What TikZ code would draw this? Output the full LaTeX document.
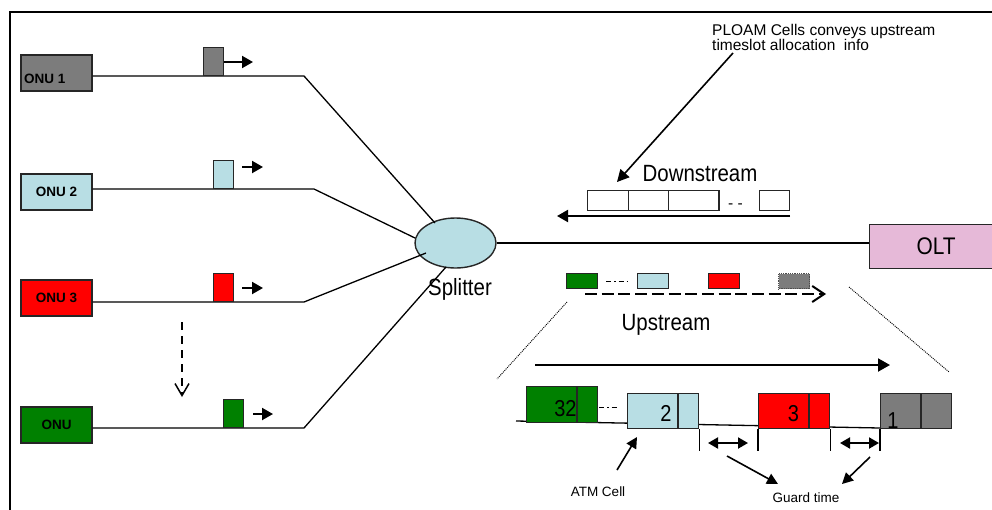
\documentclass[tikz,border=0pt]{standalone}
\usepackage{fontspec}
\setmainfont{Liberation Sans}
\newfontfamily\narrowsf[FakeStretch=0.87]{Liberation Sans}
\usetikzlibrary{arrows.meta,shapes.geometric}

\definecolor{unitgray}{RGB}{124,124,124}
\definecolor{unitblue}{RGB}{184,222,228}
\definecolor{unitred}{RGB}{255,0,0}
\definecolor{unitgreen}{RGB}{0,128,0}
\definecolor{oltpink}{RGB}{230,185,216}

\tikzset{
  framestyle/.style={line width=1.6pt, line cap=rect},
  cellline/.style={draw=black!85, line width=1.4pt},
  cellbox/.style={cellline, rectangle, inner sep=0pt},
  onubox/.style={cellbox, minimum width=71pt, minimum height=36pt,
    font=\fontsize{13.5}{15}\selectfont\bfseries},
  onulabel/.style={inner sep=0pt, font=\fontsize{13.5}{15}\selectfont\bfseries},
  pkt/.style={cellbox, minimum width=20pt, minimum height=28pt, anchor=south west},
  ublock/.style={cellbox, minimum width=31pt, minimum height=15pt, anchor=north west},
  dcell/.style={cellbox, minimum height=20pt, anchor=north west},
  bigcell/.style={cellbox, minimum height=35pt, anchor=north west},
  fiber/.style={line width=1.3pt},
  pushto/.style={line width=2pt, -{Triangle[length=11pt,width=12pt]}},
  bigtext/.style={inner sep=0pt, font=\narrowsf\fontsize{23.5}{26}\selectfont},
  numtext/.style={inner sep=0pt, font=\narrowsf\fontsize{23}{25}\selectfont},
  smalltext/.style={inner sep=0pt, font=\fontsize{13.5}{15}\selectfont},
  notetext/.style={inner sep=0pt, font=\fontsize{15.5}{16}\selectfont},
  zoomline/.style={line width=0.9pt, dash pattern=on 1pt off 1pt},
  pointer/.style={line width=1.6pt, -{Triangle[length=11pt,width=11pt]}},
  gap/.style={line width=2pt, {Triangle[length=10pt,width=11pt]}-{Triangle[length=10pt,width=11pt]}},
  dashdot/.style={line width=1pt, dash pattern=on 5pt off 3pt on 1.5pt off 3pt on 5pt off 3pt},
}

\begin{document}
\begin{tikzpicture}[x=1pt,y=-1pt]
\useasboundingbox (0,0) rectangle (992,509);

% outer frame (open at right and bottom)
\coordinate (fbl) at (10,509);
\coordinate (ftl) at (10,12);
\coordinate (ftr) at (992,12);
\draw[framestyle] (fbl) -- (ftl) -- (ftr);

% ---------------- ONUs ----------------
\node[onubox, fill=unitgray] (onu1) at (56.5,73) {};
\node[onulabel, anchor=base west] (onu1t) at (24,83.3) {ONU 1};
\node[onubox, fill=unitblue] (onu2) at (56.5,192) {ONU 2};
\node[onubox, fill=unitred] (onu3) at (56.5,298) {ONU 3};
\node[onubox, fill=unitgreen] (onu4) at (56.5,425) {ONU};

% splitter
\node[draw=black!85, line width=1.4pt, ellipse, fill=unitblue,
      minimum width=81pt, minimum height=50pt, inner sep=0pt] (split) at (455.5,243) {};
\node[bigtext, anchor=base] (splitlbl) at (460,295) {Splitter};

% fibres from the ONUs into the splitter
\coordinate (b1) at (304,76);  \coordinate (e1) at (435,223);
\coordinate (b2) at (314,189); \coordinate (e2) at (415,238);
\coordinate (b3) at (304,302); \coordinate (e3) at (426,253);
\coordinate (b4) at (304,428); \coordinate (e4) at (446,267);
\draw[fiber] (onu1.east |- b1) -- (b1) -- (e1);
\draw[fiber] (onu2.east |- b2) -- (b2) -- (e2);
\draw[fiber] (onu3.east |- b3) -- (b3) -- (e3);
\draw[fiber] (onu4.east |- b4) -- (b4) -- (e4);

% upstream bursts on each fibre
\node[pkt, fill=unitgray]  (pk1) at (203,76)  {};
\node[pkt, fill=unitblue]  (pk2) at (213,189) {};
\node[pkt, fill=unitred]   (pk3) at (213,302) {};
\node[pkt, fill=unitgreen] (pk4) at (223,428) {};
\coordinate (a1) at (253,62);
\coordinate (s2) at (242,167); \coordinate (a2) at (263,167);
\coordinate (s3) at (242,288); \coordinate (a3) at (263,288);
\coordinate (s4) at (253,414); \coordinate (a4) at (273,414);
\draw[pushto] (pk1.east |- a1) -- (a1);
\draw[pushto] (s2) -- (a2);
\draw[pushto] (s3) -- (a3);
\draw[pushto] (s4) -- (a4);

% more ONUs further down
\coordinate (m0) at (182,322);
\coordinate (m1) at (182,397);
\draw[line width=1.5pt, dash pattern=on 8pt off 6pt,
      -{Straight Barb[length=12pt,width=14pt]}] (m0) -- (m1);

% ---------------- OLT and trunk ----------------
\node[cellbox, fill=oltpink, minimum width=133pt, minimum height=44pt,
      anchor=north west, font=\narrowsf\fontsize{24}{26}\selectfont] (olt) at (869,224) {OLT};
\draw[fiber] (split.east) -- (split.east -| olt.west);

% ---------------- downstream ----------------
\node[dcell, minimum width=41pt]   (dc1) at (586.7,190) {};
\node[dcell, minimum width=40pt]   (dc2) at (627.7,190) {};
\node[dcell, minimum width=50.6pt] (dc3) at (667.7,190) {};
\node[dcell, minimum width=30pt]   (dc4) at (759,190) {};
\node[notetext, anchor=base] (dcdots) at (735.5,208.5) {- -};
\coordinate (d0) at (790,216);
\coordinate (d1) at (557,216);
\draw[line width=2pt, -{Triangle[length=11pt,width=12pt]}] (d0) -- (d1);
\node[bigtext, anchor=base] (dslbl) at (700,181.7) {Downstream};

\node[notetext, anchor=base west] (ploam1) at (712,35.7) {PLOAM Cells conveys upstream};
\node[notetext, anchor=base west] (ploam2) at (712,50) {timeslot allocation~~info};
\coordinate (p0) at (733,53);
\coordinate (p1) at (617,182);
\draw[line width=1.6pt, -{Triangle[length=12pt,width=12pt]}] (p0) -- (p1);

% ---------------- upstream ----------------
\node[ublock, fill=unitgreen] (ug) at (566,273) {};
\node[ublock, fill=unitblue]  (ub) at (637,273) {};
\node[ublock, fill=unitred]   (ur) at (708,273) {};
\node[ublock, fill=unitgray, draw=black!70, dash pattern=on 1pt off 0.8pt] (uy) at (778,273) {};
\coordinate (ud0) at (606,281);
\coordinate (ud1) at (628,281);
\draw[dashdot] (ud0) -- (ud1);
\coordinate (u0) at (585,294);
\coordinate (u1) at (826,294);
\draw[line width=2pt, dash pattern=on 12pt off 4.7pt,
      -{Straight Barb[length=12pt,width=16pt]}] (u0) -- (u1);
\node[bigtext, anchor=base] (uslbl) at (666,330) {Upstream};

% magnified burst train
\coordinate (z0) at (567,302); \coordinate (z1) at (497,379);
\coordinate (z2) at (849,287); \coordinate (z3) at (949,372);
\draw[zoomline] (z0) -- (z1);
\draw[zoomline] (z2) -- (z3);

\coordinate (t0) at (535,365);
\coordinate (t1) at (890,365);
\draw[line width=2pt, -{Triangle[length=12pt,width=13pt]}] (t0) -- (t1);

\coordinate (bl0) at (516,421);
\coordinate (bl1) at (880,428);
\draw[fiber] (bl0) -- (bl1);

\node[bigcell, fill=unitgreen, minimum width=71pt, minimum height=36pt] (c32) at (526,386) {};
\node[bigcell, fill=unitblue,  minimum width=71pt] (c2) at (627,393) {};
\node[bigcell, fill=unitred,   minimum width=71pt] (c3) at (758,393) {};
\node[bigcell, fill=unitgray,  minimum width=71pt] (c1) at (880,393) {};
\draw[cellline] (577,386) -- (577,422);
\draw[cellline] (678,393) -- (678,428);
\draw[cellline] (809,393) -- (809,428);
\draw[cellline] (921,393) -- (921,428);
\node[numtext, anchor=base east] (n32) at (576.7,416) {32};
\node[numtext, anchor=base] (n2) at (666,421.7) {2};
\node[numtext, anchor=base] (n3) at (793.5,421.7) {3};
\node[numtext, anchor=base] (n1) at (893,428) {1};
\coordinate (cd0) at (599,407);
\coordinate (cd1) at (618,407);
\draw[dashdot] (cd0) -- (cd1);

% guard-time markers
\draw[fiber] (c2.south east) -- ++(0,22);
\draw[fiber] (c3.south west) -- ++(0,22);
\draw[fiber] (c3.south east) -- ++(0,22);
\draw[fiber] (c1.south west) -- ++(0,22);
\coordinate (g0) at (708,443); \coordinate (g1) at (748,443);
\coordinate (g2) at (840,443); \coordinate (g3) at (879,443);
\draw[gap] (g0) -- (g1);
\draw[gap] (g2) -- (g3);

\node[smalltext, anchor=base] (atm) at (598,496.7) {ATM Cell};
\node[smalltext, anchor=base] (guard) at (806,502.5) {Guard time};
\coordinate (q0) at (617,470); \coordinate (q1) at (637,437);
\draw[pointer] (q0) -- (q1);
\coordinate (r0) at (727,456); \coordinate (r1) at (778,484);
\coordinate (r2) at (870,457); \coordinate (r3) at (842,484);
\draw[pointer] (r0) -- (r1);
\draw[pointer] (r2) -- (r3);
\end{tikzpicture}
\end{document}
